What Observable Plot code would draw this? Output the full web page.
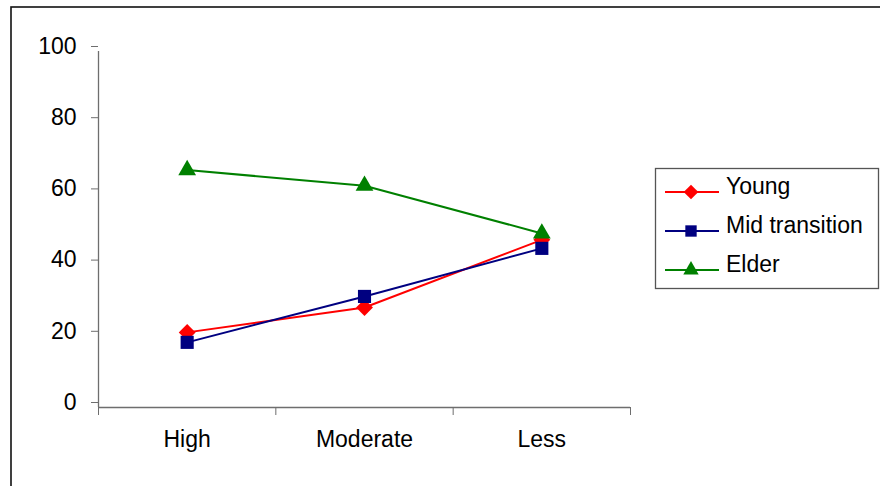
<!DOCTYPE html>
<html><head><meta charset="utf-8">
<script src="https://cdn.jsdelivr.net/npm/d3@7"></script>
<script src="https://cdn.jsdelivr.net/npm/@observablehq/plot@0.6"></script>
<style>html,body{margin:0;padding:0;background:#fff} svg{display:block}</style>
</head><body><div id="chart"></div>
<script>
const categories = ["High", "Moderate", "Less"];
const seriesNames = ["Young", "Mid transition", "Elder"];
const young = [21.1, 28.1, 47.1];
const midTransition = [18.3, 31.2, 44.7];
const elder = [66.7, 62.3, 48.9];
const yTicks = [0, 20, 40, 60, 80, 100];

const seriesValues = [young, midTransition, elder];
const seriesColors = ["#ff0000", "#000080", "#008000"];
const seriesSymbols = ["diamond2", "square", "triangle"];
const symbolR = [7.6, 7.4, 6.6];

const table = [];
seriesNames.forEach((s, si) => categories.forEach((c, ci) => {
  table.push({series: s, cat: c, xi: ci + 0.5, value: seriesValues[si][ci]});
}));

const FONT = "'Liberation Sans', Arial, sans-serif";
const AXIS = "#6e6e6e";

const marks = [
  Plot.ruleY([0], {stroke: AXIS, strokeWidth: 1.3}),
  Plot.ruleX([0], {stroke: AXIS, strokeWidth: 1.3}),
  Plot.axisY({ticks: yTicks, tickSize: 7, tickPadding: 15, dy: -5, stroke: AXIS, fill: "#000", fontSize: 23, label: null}),
  Plot.axisX({ticks: d3.range(categories.length + 1), tickSize: 8, tickFormat: () => "", stroke: AXIS, label: null}),
  Plot.axisX({ticks: categories.map((c, i) => i + 0.5), tickSize: 0, tickPadding: 23, tickFormat: d => categories[Math.round(d - 0.5)], fill: "#000", fontSize: 23, label: null}),
  Plot.line(table, {x: "xi", y: "value", z: "series", stroke: "series", strokeWidth: 2})
];
seriesNames.forEach((s, i) => {
  marks.push(Plot.dot(table.filter(d => d.series === s), {x: "xi", y: "value", symbol: seriesSymbols[i], r: symbolR[i], fill: seriesColors[i], stroke: "none"}));
});

const chart = Plot.plot({
  width: 880, height: 486,
  marginLeft: 98, marginRight: 250, marginTop: 51, marginBottom: 79,
  style: {fontFamily: FONT, fontSize: "23px", background: "#fff", overflow: "visible"},
  x: {domain: [0, categories.length], axis: null},
  y: {domain: [0, 100], axis: null},
  color: {domain: seriesNames, range: seriesColors},
  marks
});

const svg = d3.select(chart);
// outer chart frame
svg.append("rect").attr("x", 11).attr("y", 7).attr("width", 900).attr("height", 520)
  .attr("fill", "none").attr("stroke", "#111").attr("stroke-width", 1.6);

// legend
const lg = svg.append("g").attr("text-anchor", "start");
lg.append("rect").attr("x", 655.5).attr("y", 168.5).attr("width", 223).attr("height", 120)
  .attr("fill", "#fff").attr("stroke", "#555").attr("stroke-width", 1.3);
const symMap = {diamond2: d3.symbolDiamond2, square: d3.symbolSquare, triangle: d3.symbolTriangle};
seriesNames.forEach((s, i) => {
  const yy = 192 + i * 39;
  lg.append("line").attr("x1", 665).attr("x2", 719).attr("y1", yy).attr("y2", yy)
    .attr("stroke", seriesColors[i]).attr("stroke-width", 2);
  lg.append("path").attr("transform", `translate(691,${yy})`)
    .attr("d", d3.symbol(symMap[seriesSymbols[i]], symbolR[i] * symbolR[i] * Math.PI * 0.75)())
    .attr("fill", seriesColors[i]);
  lg.append("text").attr("x", 726).attr("y", yy + 2).attr("font-size", 23)
    .attr("text-anchor", "start")
    .attr("font-family", FONT).attr("fill", "#000").text(s);
});

document.getElementById("chart").appendChild(chart);
</script>
</body></html>
